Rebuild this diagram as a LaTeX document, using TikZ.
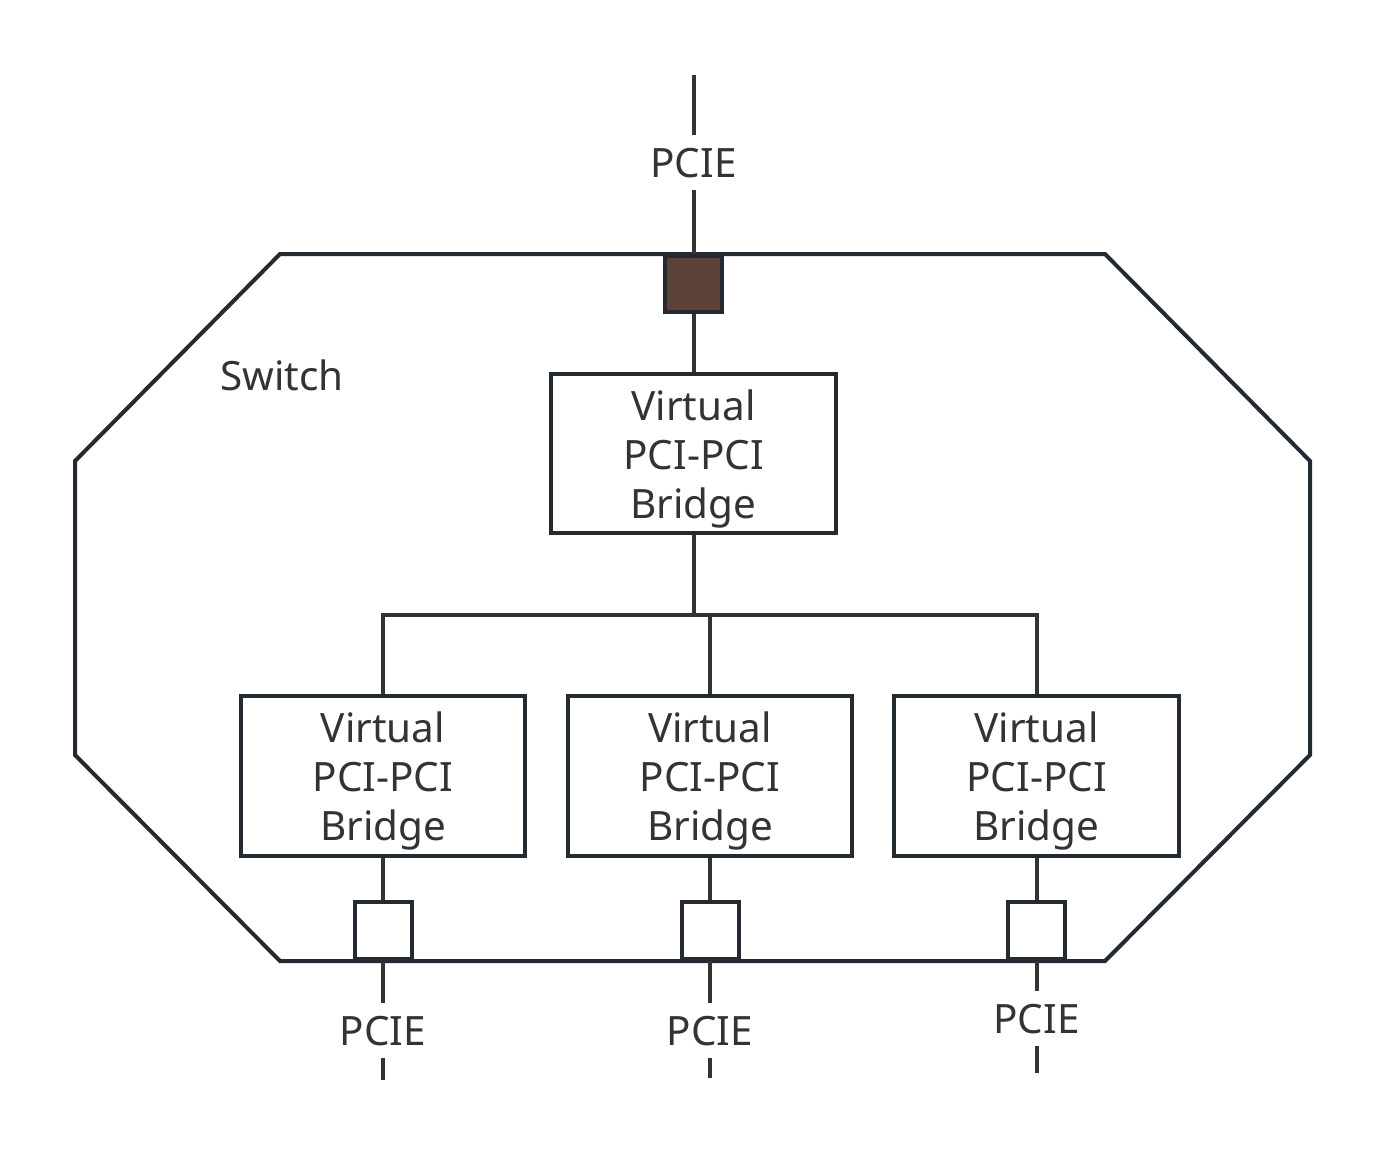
\documentclass[tikz,border=0pt]{standalone}
\usepackage{fontspec}
\setmainfont{Noto Sans}
\definecolor{edge}{HTML}{232A31}
\definecolor{wire}{HTML}{333333}
\definecolor{ink}{HTML}{333333}
\definecolor{upfill}{HTML}{5D4037}
\newcommand{\vbtext}{\rule{0pt}{0.82cm}Virtual\\PCI-PCI\\Bridge}

\begin{document}
\begin{tikzpicture}[x=0.02cm,y=-0.02cm,
        font=\fontsize{23}{27.9}\selectfont,text=ink,
        bridge/.style={draw=edge,line width=0.08cm,minimum width=5.7cm,minimum height=3.2cm,align=center,inner sep=0pt},
        port/.style={draw=edge,line width=0.08cm,minimum size=1.14cm,inner sep=0pt},
        bus/.style={draw=wire,line width=0.08cm},
        plabel/.style={anchor=base,inner xsep=0pt,inner ysep=0.26cm,text height=0.58cm,text depth=0pt}]
                \useasboundingbox (0,0) rectangle (1385,1156);
                \draw[edge,line width=0.08cm,line join=miter] (280,254)--(1105,254)--(1310,461)--(1310,755)--(1105,961)--(280,961)--(75,755)--(75,461)--cycle;
                \node[anchor=base west,inner sep=0pt] (switch) at (220,390) {Switch};
                \node[port,fill=upfill] (up) at (693.5,284) {};
                \node[bridge] (vbtop) at (693.5,453.5) {\vbtext};
                \node[bridge] (vb1) at (383,776) {\vbtext};
                \node[bridge] (vb2) at (710,776) {\vbtext};
                \node[bridge] (vb3) at (1036.5,776) {\vbtext};
                \node[port,fill=white] (dp1) at (383,930) {};
                \node[port,fill=white] (dp2) at (710,930) {};
                \node[port,fill=white] (dp3) at (1036.5,930) {};
                \node[plabel] (pup) at (693.5,177) {PCIE};
                \node[plabel] (pd1) at (383,1045) {PCIE};
                \node[plabel] (pd2) at (710,1045) {PCIE};
                \node[plabel] (pd3) at (1036.5,1033) {PCIE};
                \coordinate (upend) at (693.5,75);
                \coordinate (end1) at (383,1080);
                \coordinate (end2) at (710,1078);
                \coordinate (end3) at (1036.5,1073);
                \coordinate (busline) at (0,615);
                % upstream side
                \draw[bus] (upend)--(pup.north);
                \draw[bus] (pup.south)--(up.north);
                \draw[bus] (up.south)--(vbtop.north);
                \draw[bus] (vbtop.south)--(vbtop.south |- busline);
                \draw[bus] (vb1.north)--(vb1.north |- busline)--(vb3.north |- busline)--(vb3.north);
                \draw[bus] (vb2.north |- busline)--(vb2.north);
                % downstream side
                \foreach \i in {1,2,3}{
                    \draw[bus] (vb\i.south)--(dp\i.north);
                    \draw[bus] (dp\i.south)--(pd\i.north);
                    \draw[bus] (pd\i.south)--(end\i);
                }
            \end{tikzpicture}
\end{document}
